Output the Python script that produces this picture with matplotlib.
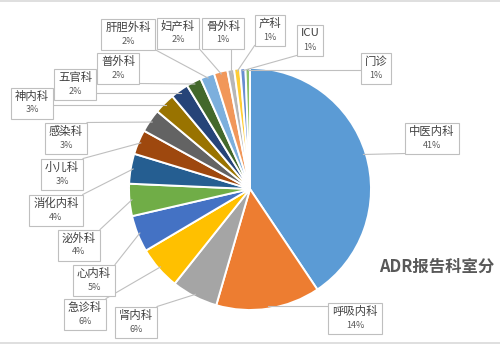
import numpy as np
import matplotlib
matplotlib.use("Agg")
import matplotlib.pyplot as plt
from matplotlib.patches import Rectangle

plt.rcParams["font.family"] = ["Noto Sans CJK SC", "DejaVu Sans"]

# ── 数据 ──────────────────────────────────────────────────
depts = ["中医内科", "呼吸内科", "肾内科", "急诊科", "心内科", "泌外科", "消化内科",
         "小儿科", "感染科", "神内科", "五官科", "普外科", "肝胆外科", "妇产科",
         "骨外科", "产科", "ICU", "门诊"]
shares = [40.6, 13.9, 6.2, 5.8, 4.9, 4.3, 4.0, 3.3, 3.1, 2.8, 2.4, 2.0, 1.9, 1.8,
          0.9, 0.8, 0.7, 0.6]
title = "ADR报告科室分"

colors = ["#5B9BD5", "#ED7D31", "#A5A5A5", "#FFC000", "#4472C4", "#70AD47",
          "#255E91", "#9E480E", "#636363", "#997300", "#264478", "#43682B",
          "#7CAFDD", "#F1975A", "#B7B7B7", "#FFCD33", "#698ED0", "#8CC168"]

# 标签框中心（像素，y 自上而下）
label_pos = [(432, 138), (355, 318), (136, 322), (85, 314), (94, 280), (79, 245),
             (56, 210), (62, 174), (66, 138), (32, 103), (75, 84), (118, 68),
             (128, 34), (178, 33), (223, 33), (270, 30), (310, 40), (376, 68)]

W, H = 500, 345
CX, CY, R = 250, H - 189, 121

fig = plt.figure(figsize=(5, 3.45), dpi=100)
ax = fig.add_axes([0, 0, 1, 1])
wedges, _ = ax.pie(shares, colors=colors, startangle=90, counterclock=False,
                   center=(CX, CY), radius=R,
                   wedgeprops={"edgecolor": "white", "linewidth": 1.4})
ax.set_xlim(0, W)
ax.set_ylim(0, H)
ax.axis("off")

total = sum(shares)
texts = []
for name, v, (px, py) in zip(depts, shares, label_pos):
    y = H - py
    t1 = ax.text(px, y + 6.5, name, ha="center", va="center", fontsize=8.2,
                 color="#404040", zorder=5)
    t2 = ax.text(px, y - 7, f"{v / total * 100:.0f}%", ha="center", va="center",
                 fontsize=6.5, color="#595959", zorder=5)
    texts.append((t1, t2))

fig.canvas.draw()
renderer = fig.canvas.get_renderer()
inv = ax.transData.inverted()

for w, (t1, t2), (px, py) in zip(wedges, texts, label_pos):
    e1 = t1.get_window_extent(renderer)
    e2 = t2.get_window_extent(renderer)
    x0, y0 = inv.transform((min(e1.x0, e2.x0), min(e1.y0, e2.y0)))
    x1, y1 = inv.transform((max(e1.x1, e2.x1), max(e1.y1, e2.y1)))
    x0 -= 4; x1 += 4
    cy = H - py
    y0, y1 = cy - 15.5, cy + 15.5
    ax.add_patch(Rectangle((x0, y0), x1 - x0, y1 - y0, facecolor="white",
                           edgecolor="#BFBFBF", linewidth=0.8, zorder=4))
    th = np.deg2rad((w.theta1 + w.theta2) / 2)
    sx, sy = CX + R * 0.98 * np.cos(th), CY + R * 0.98 * np.sin(th)
    ex, ey = min(max(sx, x0), x1), min(max(sy, y0), y1)
    ax.plot([sx, ex], [sy, ey], color="#BFBFBF", linewidth=0.8, zorder=3)

ax.text(379, H - 267, title, ha="left", va="center", fontsize=11.8,
        fontweight="bold", color="#595959")

ax.axhline(H - 0.5, color="#D9D9D9", linewidth=1.2)
ax.axhline(H - 343, color="#D9D9D9", linewidth=1.2)

fig.savefig("out.png", dpi=100)
